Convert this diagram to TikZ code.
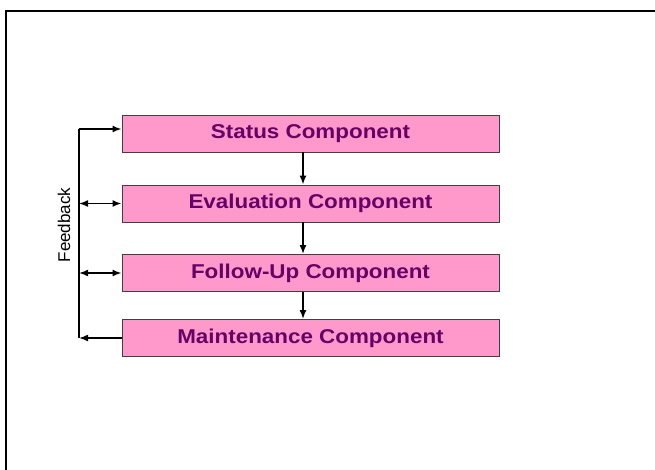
\documentclass[tikz,border=0pt]{standalone}
\usepackage{fontspec}
\setmainfont{Liberation Sans}
\newfontfamily\boxfont[FakeStretch=1.12]{Liberation Sans}
\usetikzlibrary{arrows.meta}
\definecolor{boxpink}{HTML}{FF99CC}
\definecolor{boxtext}{HTML}{660066}
\definecolor{boxline}{HTML}{404040}
\begin{document}
\begin{tikzpicture}[x=1pt,y=-1pt,
  compbox/.style={draw=boxline, line width=0.9pt, fill=boxpink, minimum width=377pt, minimum height=37pt, inner sep=0pt, text=boxtext, font=\boxfont\bfseries\fontsize{20pt}{22pt}\selectfont},
  arr/.style={line width=1.6pt, -{Latex[length=9pt,width=7pt]}},
  darr/.style={line width=1.6pt, {Latex[length=9pt,width=7pt]}-{Latex[length=9pt,width=7pt]}},
  plain/.style={line width=1.6pt}]
\useasboundingbox (0,0) rectangle (655,470);
\fill[white] (0,0) rectangle (655,470);
\draw[line width=2.5pt] (6,475) -- (6,11) -- (660,11);

\node[compbox] (s) at (310.5,133.5) {Status Component};
\node[compbox] (e) at (310.5,203.5) {Evaluation Component};
\node[compbox] (f) at (310.5,273) {Follow-Up Component};
\node[compbox] (m) at (310.5,338) {Maintenance Component};

\coordinate (ax) at (303,0);
\draw[arr] (s.south -| ax) -- (e.north -| ax);
\draw[arr] (e.south -| ax) -- (f.north -| ax);
\draw[arr] (f.south -| ax) -- (m.north -| ax);

\coordinate (ftop) at (79,129);
\coordinate (fbot) at (79,338);
\draw[plain] (ftop) -- (fbot);
\draw[arr] (ftop) -- (ftop -| s.west);
\draw[darr] (79,203.5) -- (e.west);
\draw[darr] (79,273) -- (f.west);
\draw[arr] (m.west) -- (fbot);

\node[rotate=90, font=\fontsize{17pt}{19pt}\selectfont] (fb) at (64,225) {Feedback};
\end{tikzpicture}
\end{document}
